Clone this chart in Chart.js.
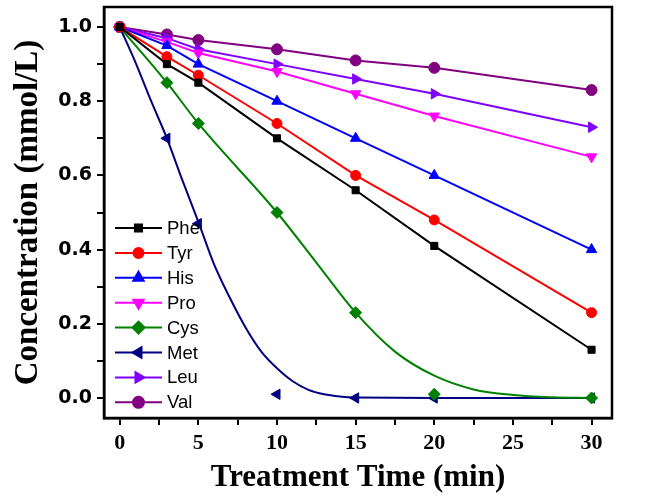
<!DOCTYPE html>
<html>
<head>
<meta charset="utf-8">
<script src="https://cdn.jsdelivr.net/npm/chart.js@4.4.1/dist/chart.umd.min.js"></script>
<style>
  html, body { margin: 0; padding: 0; background: #fff; }
  #wrap { width: 666px; height: 502px; }
</style>
</head>
<body>
<div id="wrap"><canvas id="chart" width="666" height="502"></canvas></div>
<script>
// Sampling times (min)
const times = [0, 3, 5, 10, 15, 20, 30];

// Measured concentrations (mmol/L)
const phe = [1.0, 0.90, 0.85, 0.70, 0.56, 0.41, 0.13];
const tyr = [1.0, 0.92, 0.87, 0.74, 0.60, 0.48, 0.23];
const his = [1.0, 0.95, 0.90, 0.80, 0.70, 0.60, 0.40];
const pro = [1.0, 0.96, 0.93, 0.88, 0.82, 0.76, 0.65];
const cys = [1.0, 0.85, 0.74, 0.50, 0.23, 0.01, 0.0];
const met = [1.0, 0.70, 0.47, 0.01, 0.0, 0.0, 0.0];
const leu = [1.0, 0.97, 0.94, 0.90, 0.86, 0.82, 0.73];
const val = [1.0, 0.98, 0.965, 0.94, 0.91, 0.89, 0.83];

// Fitted curves drawn for Cys and Met
const cysFitTimes = [0, 3, 5, 10, 12.5, 15, 17.5, 20, 22.5, 25, 27.5, 30];
const cysFit = [1.0, 0.85, 0.74, 0.50, 0.365, 0.23, 0.125, 0.06, 0.023, 0.008, 0.002, 0.0];
const metFitTimes = [0, 1, 2, 3, 4, 5, 6, 7, 8, 9, 10, 11, 12, 13, 14, 15, 20, 25, 30];
const metFit = [1.0, 0.905, 0.80, 0.70, 0.585, 0.475, 0.36, 0.27, 0.19, 0.125, 0.08, 0.045, 0.022, 0.01, 0.004, 0.001, 0.0, 0.0, 0.0];

// Axis ticks
const xTicks = [0, 2.5, 5, 7.5, 10, 12.5, 15, 17.5, 20, 22.5, 25, 27.5, 30];
const yTicks = [0, 0.1, 0.2, 0.3, 0.4, 0.5, 0.6, 0.7, 0.8, 0.9, 1.0];

const series = [
    { label: 'Phe', data: phe, color: '#000000', style: 'rect', rot: 0, r: 5 },
    { label: 'Tyr', data: tyr, color: '#ff0000', style: 'circle', rot: 0, r: 5 },
    { label: 'His', data: his, color: '#0000ff', style: 'triangle', rot: 0, r: 6 },
    { label: 'Pro', data: pro, color: '#ff00ff', style: 'triangle', rot: 180, r: 6 },
    { label: 'Cys', data: cys, color: '#008000', style: 'rectRot', rot: 0, r: 6, fit: [cysFitTimes, cysFit] },
    { label: 'Met', data: met, color: '#000080', style: 'triangle', rot: -90, r: 6, fit: [metFitTimes, metFit] },
    { label: 'Leu', data: leu, color: '#8000ff', style: 'triangle', rot: 90, r: 6 },
    { label: 'Val', data: val, color: '#800080', style: 'circle', rot: 0, r: 5.5 },
];

function pairs(xs, ys) {
    return xs.map((x, i) => ({ x: x, y: ys[i] }));
}

let datasets = [];
series.forEach(s => {
    datasets.push({
        label: s.label,
        data: pairs(times, s.data),
        borderColor: s.color,
        backgroundColor: s.color,
        borderWidth: 2,
        showLine: !s.fit,
        pointStyle: s.style,
        rotation: s.rot,
        pointRadius: s.r,
        pointBorderWidth: 1,
        order: 0,
    });
    if (s.fit) {
        datasets.push({
            label: s.label + ' fit',
            data: pairs(s.fit[0], s.fit[1]),
            borderColor: s.color,
            borderWidth: 2,
            pointRadius: 0,
            showLine: true,
            cubicInterpolationMode: 'monotone',
            order: 1,
        });
    }
});

// Frame round the plot area
const framePlugin = {
    id: 'frame',
    afterDraw(chart) {
        const a = chart.chartArea;
        const ctx = chart.ctx;
        ctx.save();
        ctx.strokeStyle = '#000';
        ctx.lineWidth = 2.5;
        ctx.strokeRect(a.left, a.top, a.right - a.left, a.bottom - a.top);
        ctx.restore();
    }
};

// Legend with line + marker, as in the original
const legendPlugin = {
    id: 'lineLegend',
    afterDraw(chart) {
        const ctx = chart.ctx;
        ctx.save();
        ctx.font = '18.5px "Liberation Sans", Arial, sans-serif';
        ctx.textBaseline = 'middle';
        series.forEach((s, i) => {
            const y = 228 + i * 24.9;
            ctx.strokeStyle = s.color;
            ctx.fillStyle = s.color;
            ctx.lineWidth = 2;
            ctx.beginPath();
            ctx.moveTo(115, y);
            ctx.lineTo(162, y);
            ctx.stroke();
            Chart.helpers.drawPoint(ctx, { pointStyle: s.style, rotation: s.rot, radius: s.r, borderWidth: 1 }, 138.5, y);
            ctx.fillStyle = '#000';
            ctx.fillText(s.label, 167, y + 1);
        });
        ctx.restore();
    }
};

new Chart(document.getElementById('chart'), {
    type: 'scatter',
    data: { datasets: datasets },
    options: {
        responsive: false,
        animation: false,
        layout: { padding: { left: 0, right: 54, top: 5, bottom: 0 } },
        plugins: {
            legend: { display: false },
            tooltip: { enabled: false },
        },
        scales: {
            x: {
                type: 'linear',
                min: -1,
                max: 31.3,
                afterBuildTicks: (scale) => { scale.ticks = xTicks.map(v => ({ value: v })); },
                afterFit: (scale) => { scale.height = 84; },
                ticks: {
                    autoSkip: false,
                    maxRotation: 0,
                    color: '#000',
                    padding: 5,
                    font: { family: '"Liberation Serif", "Times New Roman", serif', size: 22, weight: 'bold' },
                    callback: (v) => (v % 5 === 0 ? String(v) : ''),
                },
                grid: { drawOnChartArea: false, color: '#000', tickLength: 7, lineWidth: 2 },
                border: { display: true, color: '#000', width: 2.5 },
                title: {
                    display: true,
                    text: 'Treatment Time (min)',
                    color: '#000',
                    padding: { top: 0, bottom: 5 },
                    font: { family: '"Liberation Serif", "Times New Roman", serif', size: 31, weight: 'bold' },
                },
            },
            y: {
                type: 'linear',
                min: -0.054,
                max: 1.054,
                afterBuildTicks: (scale) => { scale.ticks = yTicks.map(v => ({ value: v })); },
                afterFit: (scale) => {
                    scale.width = 104;
                    scale.paddingTop = 0;
                    scale.paddingBottom = 0;
                },
                ticks: {
                    autoSkip: false,
                    color: '#000',
                    padding: 5,
                    font: { family: '"DejaVu Sans", sans-serif', size: 19, weight: 'bold' },
                    callback: (v) => {
                        const k = Math.round(v * 10);
                        return k % 2 === 0 ? (k / 10).toFixed(1) : '';
                    },
                },
                grid: { drawOnChartArea: false, color: '#000', tickLength: 7, lineWidth: 2 },
                border: { display: true, color: '#000', width: 2.5 },
                title: {
                    display: true,
                    text: 'Concentration (mmol/L)',
                    color: '#000',
                    padding: { top: 9, bottom: 0 },
                    font: { family: '"Liberation Serif", "Times New Roman", serif', size: 33, weight: 'bold' },
                },
            },
        },
    },
    plugins: [framePlugin, legendPlugin],
});
</script>
</body>
</html>
